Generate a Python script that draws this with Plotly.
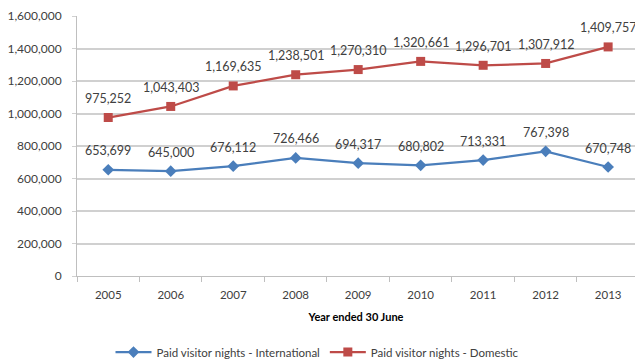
import plotly.graph_objects as go

years = ["2005", "2006", "2007", "2008", "2009", "2010", "2011", "2012", "2013"]
international = [653699, 645000, 676112, 726466, 694317, 680802, 713331, 767398, 670748]
domestic = [975252, 1043403, 1169635, 1238501, 1270310, 1320661, 1296701, 1307912, 1409757]
y_ticks = list(range(0, 1600001, 200000))

BLUE = "#4a7ebb"
RED = "#be4b48"
TXT = "#404040"
FONT = "Lato, Open Sans, sans-serif"

fig = go.Figure()
fig.add_trace(go.Scatter(
    x=years, y=international, mode="lines+markers",
    name="Paid visitor nights - International",
    line=dict(color=BLUE, width=2.25),
    marker=dict(symbol="diamond", size=9, color=BLUE),
))
fig.add_trace(go.Scatter(
    x=years, y=domestic, mode="lines+markers",
    name="Paid visitor nights - Domestic",
    line=dict(color=RED, width=2.25),
    marker=dict(symbol="square", size=9, color=RED),
))

for series in (international, domestic):
    for i, v in enumerate(series):
        fig.add_annotation(x=i, y=v, xref="x", yref="y", text=f"{v:,}", showarrow=False,
                           yshift=19, font=dict(size=12.5, color=TXT, family=FONT))

fig.update_layout(
    width=635, height=360,
    margin=dict(l=77, r=0, t=16, b=84, autoexpand=False),
    paper_bgcolor="white", plot_bgcolor="white",
    font=dict(family=FONT, size=12, color=TXT),
    showlegend=True,
    legend=dict(orientation="h", x=0.5, xanchor="center", xref="container",
                y=0.022, yanchor="middle", yref="container",
                font=dict(size=11.5, color=TXT), traceorder="normal",
                itemwidth=36),
)
fig.update_xaxes(
    type="category", range=[-0.5, 8.43],
    showline=True, linecolor="#bfbfbf", linewidth=1,
    ticks="outside", tickson="boundaries", ticklen=5, tickcolor="#bfbfbf",
    ticklabelstandoff=8,
    showgrid=False,
    tickfont=dict(size=11.5, color=TXT),
    title=dict(text="<b>Year ended 30 June</b>", font=dict(size=11, color="black"), standoff=13),
)
fig.update_yaxes(
    range=[0, 1600000], tickvals=y_ticks,
    ticktext=[f"{v:,}" for v in y_ticks],
    showgrid=True, gridcolor="#d0d0d0", gridwidth=1.5,
    showline=True, linecolor="#bfbfbf", linewidth=1,
    ticks="outside", ticklen=4, tickcolor="#d0d0d0",
    ticklabelstandoff=8,
    zeroline=False,
    tickfont=dict(size=12, color=TXT),
)

fig.write_html("out.html")
